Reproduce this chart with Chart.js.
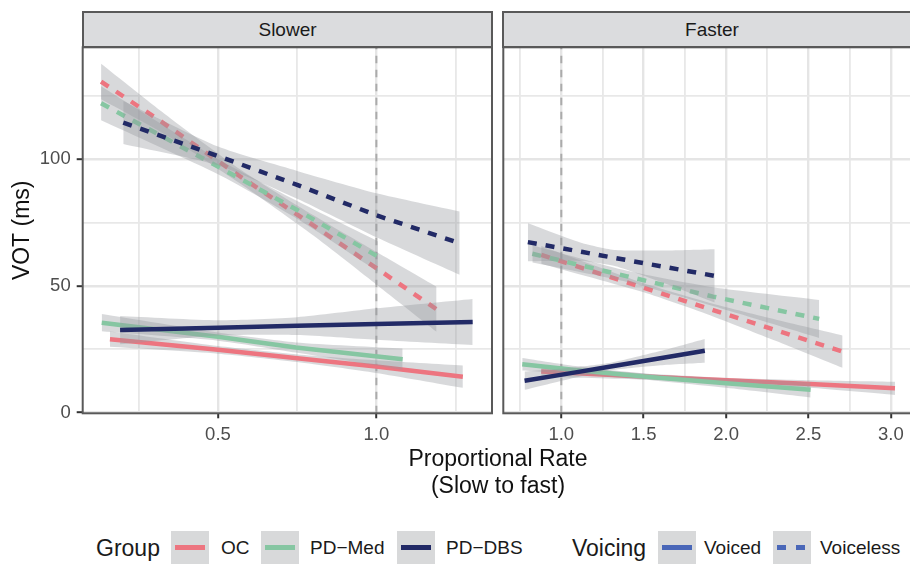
<!DOCTYPE html>
<html>
<head>
<meta charset="utf-8">
<script src="https://cdn.jsdelivr.net/npm/chart.js@4/dist/chart.umd.min.js"></script>
<style>
html,body{margin:0;padding:0;width:910px;height:565px;overflow:hidden;background:#fff;font-family:"Liberation Sans",Arial,sans-serif;}
#wrap{position:relative;width:910px;height:565px;overflow:hidden;}
canvas{position:absolute;top:0;}
.strip{position:absolute;top:11px;height:37px;background:#DBDCDE;border:2px solid #595959;box-sizing:border-box;
  font-size:19px;color:#1A1A1A;display:flex;align-items:center;justify-content:center;}
.xtitle{position:absolute;left:298px;width:400px;top:445px;text-align:center;font-size:23px;line-height:27px;color:#111;}
.lg{position:absolute;white-space:nowrap;color:#1A1A1A;}
.lgt{font-size:23px;top:533px;line-height:30px;}
.lgl{font-size:19px;top:535px;line-height:26px;}
.key{position:absolute;top:531px;width:38px;height:33px;background:rgb(216,217,218);}
.kl{position:absolute;left:4px;width:30px;top:14px;height:4.6px;}
.kd{position:absolute;top:14px;height:4.6px;width:9px;}
</style>
</head>
<body>
<div id="wrap">
  <canvas id="cSlow" width="500" height="450" style="left:0px"></canvas>
  <canvas id="cFast" width="420" height="450" style="left:497px"></canvas>
  <div class="strip" style="left:82px;width:411px;">Slower</div>
  <div class="strip" style="left:502px;width:420px;">Faster</div>
  <div class="xtitle">Proportional Rate<br>(Slow to fast)</div>

  <div class="lg lgt" style="left:96px;">Group</div>
  <div class="key" style="left:171px;"><div class="kl" style="background:#ED7580"></div></div>
  <div class="lg lgl" style="left:221px;">OC</div>
  <div class="key" style="left:261px;"><div class="kl" style="background:#86C6A2"></div></div>
  <div class="lg lgl" style="left:310px;">PD−Med</div>
  <div class="key" style="left:397px;"><div class="kl" style="background:#222A66"></div></div>
  <div class="lg lgl" style="left:446px;">PD−DBS</div>

  <div class="lg lgt" style="left:572px;">Voicing</div>
  <div class="key" style="left:658px;"><div class="kl" style="background:#4A67B8"></div></div>
  <div class="lg lgl" style="left:704px;">Voiced</div>
  <div class="key" style="left:773px;"><div class="kd" style="left:4px;background:#4A67B8"></div><div class="kd" style="left:23px;background:#4A67B8"></div></div>
  <div class="lg lgl" style="left:820px;">Voiceless</div>
</div>
<script>
// ---------- axis ticks ----------
const slowerTicks  = [0.25, 0.5, 0.75, 1.0, 1.25];
const slowerLabels = [0.5, 1.0];
const fasterTicks  = [0.75, 1.0, 1.25, 1.5, 1.75, 2.0, 2.25, 2.5, 2.75, 3.0];
const fasterLabels = [1.0, 1.5, 2.0, 2.5, 3.0];
const yTicks  = [0, 25, 50, 75, 100, 125];
const yLabels = [0, 50, 100];
const refRate = 1.0;

// ---------- Slower panel ----------
const slOCvX  = [0.159, 0.5, 0.75, 0.999, 1.273];
const slOCvY  = [29.0, 24.8, 21.5, 18.2, 14.2];
const slOCvLo = [26.0, 23.3, 20.0, 15.7, 9.8];
const slOCvHi = [32.0, 26.3, 23.0, 20.7, 18.6];

const slOCuX  = [0.131, 0.331, 0.568, 0.8, 1.005, 1.19];
const slOCuY  = [130.7, 114.0, 93.4, 74.0, 56.6, 40.8];
const slOCuLo = [123.7, 110.0, 90.6, 70.0, 50.1, 31.9];
const slOCuHi = [137.7, 118.0, 96.2, 78.0, 63.1, 49.7];

const slMedvX  = [0.133, 0.5, 0.746, 1.083];
const slMedvY  = [35.5, 30.0, 25.7, 21.1];
const slMedvLo = [32.1, 28.4, 23.7, 16.9];
const slMedvHi = [38.9, 31.6, 27.7, 25.3];

const slMeduX  = [0.131, 0.5, 0.75, 1.005];
const slMeduY  = [122.1, 97.1, 80.0, 61.6];
const slMeduLo = [115.4, 94.1, 76.5, 55.6];
const slMeduHi = [128.8, 100.1, 83.5, 67.6];

const slDBSvX  = [0.191, 0.5, 0.75, 1.0, 1.304];
const slDBSvY  = [32.6, 33.5, 34.3, 35.0, 35.8];
const slDBSvLo = [27.0, 30.5, 30.7, 28.8, 26.7];
const slDBSvHi = [38.2, 36.5, 37.7, 41.2, 44.9];

const slDBSuX  = [0.201, 0.5, 0.75, 1.0, 1.263];
const slDBSuY  = [114.5, 101.3, 89.9, 77.9, 66.9];
const slDBSuLo = [106.0, 97.6, 84.4, 69.2, 54.4];
const slDBSuHi = [123.0, 105.0, 95.4, 86.6, 79.4];

// ---------- Faster panel ----------
const faOCvX  = [0.878, 1.5, 2.0, 2.509, 3.025];
const faOCvY  = [16.2, 14.3, 12.8, 11.3, 9.6];
const faOCvLo = [14.2, 13.1, 11.8, 9.8, 7.0];
const faOCvHi = [18.2, 15.5, 13.8, 12.8, 12.2];

const faOCuX  = [0.878, 1.5, 1.921, 2.3, 2.707];
const faOCuY  = [62.3, 49.3, 40.5, 32.6, 24.1];
const faOCuLo = [58.8, 47.5, 38.0, 28.4, 17.7];
const faOCuHi = [65.8, 51.1, 43.0, 36.8, 30.5];

const faMedvX  = [0.763, 1.1, 1.516, 2.0, 2.513];
const faMedvY  = [19.1, 16.7, 14.2, 11.6, 9.0];
const faMedvLo = [16.6, 15.1, 13.0, 9.8, 6.0];
const faMedvHi = [21.6, 18.3, 15.4, 13.4, 12.0];

const faMeduX  = [0.824, 1.4, 1.921, 2.565];
const faMeduY  = [62.7, 53.8, 45.8, 37.0];
const faMeduLo = [59.3, 51.6, 42.1, 29.5];
const faMeduHi = [66.1, 56.0, 49.5, 44.5];

const faDBSvX  = [0.777, 1.05, 1.3, 1.6, 1.871];
const faDBSvY  = [12.6, 15.5, 18.2, 21.5, 24.4];
const faDBSvLo = [9.0, 13.3, 16.7, 18.7, 19.7];
const faDBSvHi = [16.2, 17.7, 19.7, 24.3, 29.1];

const faDBSuX  = [0.797, 1.13, 1.33, 1.63, 1.931];
const faDBSuY  = [67.3, 63.4, 61.0, 57.5, 54.0];
const faDBSuLo = [59.8, 59.9, 57.8, 51.0, 43.5];
const faDBSuHi = [74.8, 66.9, 64.2, 64.0, 64.5];

// ---------- styling ----------
const colOC = '#ED7580', colMed = '#86C6A2', colDBS = '#222A66';
const ribbonFill = 'rgba(150,152,156,0.37)';
const FONT = '"Liberation Sans", Arial, sans-serif';

function pts(xs, ys) { return xs.map((v, i) => ({x: v, y: ys[i]})); }

function seriesSets(list) {
  const out = [];
  list.forEach((s, k) => {
    const base = 200 - 3 * k;
    out.push({data: pts(s.x, s.hi), borderWidth: 0, pointRadius: 0, fill: '+1',
      backgroundColor: ribbonFill, order: base, tension: 0.2});
    out.push({data: pts(s.x, s.lo), borderWidth: 0, pointRadius: 0, fill: false,
      backgroundColor: ribbonFill, order: base - 1, tension: 0.2});
    out.push({data: pts(s.x, s.y), borderColor: s.c, borderWidth: 4.5, pointRadius: 0, fill: false,
      borderDash: s.d ? [9, 9] : [], borderCapStyle: 'butt', order: base - 2, tension: 0});
  });
  return out;
}

const slowSeries = [
  {x: slOCvX, y: slOCvY, lo: slOCvLo, hi: slOCvHi, c: colOC, d: false},
  {x: slOCuX, y: slOCuY, lo: slOCuLo, hi: slOCuHi, c: colOC, d: true},
  {x: slMedvX, y: slMedvY, lo: slMedvLo, hi: slMedvHi, c: colMed, d: false},
  {x: slMeduX, y: slMeduY, lo: slMeduLo, hi: slMeduHi, c: colMed, d: true},
  {x: slDBSvX, y: slDBSvY, lo: slDBSvLo, hi: slDBSvHi, c: colDBS, d: false},
  {x: slDBSuX, y: slDBSuY, lo: slDBSuLo, hi: slDBSuHi, c: colDBS, d: true},
];
const fastSeries = [
  {x: faOCvX, y: faOCvY, lo: faOCvLo, hi: faOCvHi, c: colOC, d: false},
  {x: faOCuX, y: faOCuY, lo: faOCuLo, hi: faOCuHi, c: colOC, d: true},
  {x: faMedvX, y: faMedvY, lo: faMedvLo, hi: faMedvHi, c: colMed, d: false},
  {x: faMeduX, y: faMeduY, lo: faMeduLo, hi: faMeduHi, c: colMed, d: true},
  {x: faDBSvX, y: faDBSvY, lo: faDBSvLo, hi: faDBSvHi, c: colDBS, d: false},
  {x: faDBSuX, y: faDBSuY, lo: faDBSuLo, hi: faDBSuHi, c: colDBS, d: true},
];

const panelPlugin = {
  id: 'panel',
  beforeDatasetsDraw(chart) {
    const {ctx, chartArea: a, scales: {x}} = chart;
    const px = x.getPixelForValue(refRate);
    ctx.save();
    ctx.beginPath(); ctx.rect(a.left, a.top, a.width, a.height); ctx.clip();
    ctx.strokeStyle = '#ABABAB'; ctx.lineWidth = 2;
    ctx.setLineDash([7.5, 6.5]);
    ctx.beginPath(); ctx.moveTo(px, a.bottom); ctx.lineTo(px, a.top); ctx.stroke();
    ctx.restore();
  },
  afterDraw(chart) {
    const {ctx, chartArea: a} = chart;
    ctx.save();
    ctx.strokeStyle = '#595959'; ctx.lineWidth = 2;
    ctx.strokeRect(a.left, a.top, a.width, a.height);
    ctx.restore();
  }
};

function isIn(arr, v) { return arr.some(t => Math.abs(t - v) < 1e-9); }

function makeChart(id, series, xmin, xmax, ticks, labels, showY, pad, yW) {
  return new Chart(document.getElementById(id), {
    type: 'line',
    data: {datasets: seriesSets(series)},
    plugins: [panelPlugin],
    options: {
      responsive: false, animation: false, events: [],
      layout: {padding: pad},
      plugins: {legend: {display: false}, tooltip: {enabled: false}},
      scales: {
        x: {
          type: 'linear', min: xmin, max: xmax,
          afterBuildTicks: s => { s.ticks = ticks.map(v => ({value: v})); },
          afterFit: s => { s.height = 36.7; },
          border: {display: false},
          grid: {
            color: c => isIn(labels, c.tick.value) ? '#E5E5E5' : '#E8E8E8',
            lineWidth: c => isIn(labels, c.tick.value) ? 2.4 : 1.8,
            tickColor: c => isIn(labels, c.tick.value) ? '#333333' : 'rgba(0,0,0,0)',
            tickWidth: 2, tickLength: 5, drawTicks: true
          },
          ticks: {
            autoSkip: false, maxRotation: 0, padding: 6,
            color: '#4D4D4D', font: {family: FONT, size: 18.5},
            callback: v => isIn(labels, v) ? v.toFixed(1) : ''
          }
        },
        y: {
          type: 'linear', min: -0.25, max: 144.2,
          afterBuildTicks: s => { s.ticks = yTicks.map(v => ({value: v})); },
          afterFit: s => { s.width = yW; },
          border: {display: false},
          grid: {
            color: c => isIn(yLabels, c.tick.value) ? '#E5E5E5' : '#E8E8E8',
            lineWidth: c => isIn(yLabels, c.tick.value) ? 2.4 : 1.8,
            tickColor: c => isIn(yLabels, c.tick.value) ? '#333333' : 'rgba(0,0,0,0)',
            tickWidth: 2, tickLength: 6, drawTicks: showY
          },
          ticks: {
            display: showY, autoSkip: false, padding: 6,
            color: '#4D4D4D', font: {family: FONT, size: 18.5},
            callback: v => isIn(yLabels, v) ? String(v) : ''
          },
          title: {
            display: showY, text: 'VOT (ms)', color: '#111',
            font: {family: FONT, size: 23}, padding: {top: 9, bottom: 0}
          }
        }
      }
    }
  });
}

makeChart('cSlow', slowSeries, 0.073, 1.365, slowerTicks, slowerLabels, true,
  {left: 0, top: 47.3, right: 8, bottom: 0}, 82.7);
makeChart('cFast', fastSeries, 0.648, 3.138, fasterTicks, fasterLabels, false,
  {left: 6.3, top: 47.3, right: 3.4, bottom: 0}, 0);
</script>
</body>
</html>
